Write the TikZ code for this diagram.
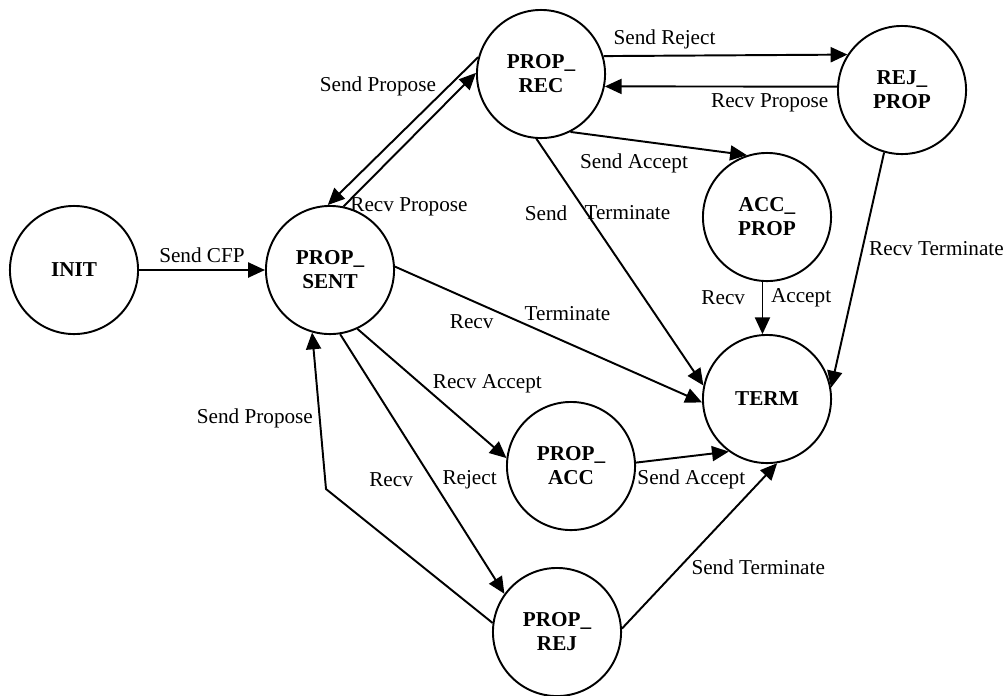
\documentclass[tikz,border=0pt]{standalone}
\usepackage{fontspec}
\setmainfont{Liberation Serif}
\usetikzlibrary{arrows.meta, positioning}

\begin{document}
\begin{tikzpicture}[x=0.566pt, y=-0.566pt, >={Triangle[length=9.5pt,width=8.5pt]}, line width=1.1pt, font=\fontsize{12}{13.6}\selectfont]
		% 节点样式
			\tikzstyle{state} = [circle, draw, line width=1.1pt, minimum size=72.5pt, inner sep=0pt, align=center, font=\fontsize{12}{13.6}\selectfont\bfseries]
			\useasboundingbox (0,0) rectangle (1008,695);
			
			% 状态节点
			\node [state] (init) at (74,270) {INIT};
			\node [state] (sent) at (330,270) {PROP\_\\SENT};
			\node [state] (rec) at (541,74) {PROP\_\\REC};
			\node [state] (rejp) at (902,90) {REJ\_\\PROP};
			\node [state] (accp) at (767,217) {ACC\_\\PROP};
			\node [state] (term) at (767,399) {TERM};
			\node [state] (pacc) at (571,466) {PROP\_\\ACC};
			\node [state] (prej) at (557,632) {PROP\_\\REJ};
			
			\coordinate (bend) at (326,489);
			
			% 状态转移
			\draw[->] (init) -- node[above] {Send CFP} (sent);
			\draw[->] (sent.78) -- node[pos=0, anchor=west] {Recv Propose} (rec.179);
			\draw[->] (rec.165) -- node[pos=0.2, left=3pt] {Send Propose} (sent.92);
			\draw[->] (rec.16) -- node[pos=0.25, above] {Send Reject} (rejp.147);
			\draw[->] (rejp.177) -- node[pos=0.29, below] {Recv Propose} (rec.-11);
			\draw[->] (rec.-63) -- node[pos=0.36, below=4pt] {Send Accept} (accp.108);
			\draw[->] (rec.-94) -- node[pos=0.3, left=7pt] {Send} node[pos=0.3, right=-5pt] {Terminate} (term.168);
			\draw[->] (sent.3) -- node[pos=0.25, below=4pt] {Recv} node[pos=0.4, anchor=base west] {Terminate} (term.183);
			\draw[->] (sent.-65) -- node[pos=0.46, anchor=base west] {Recv Accept} (pacc.173);
			\draw[->] (sent.-81) -- node[pos=0.56, left=7pt] {Recv} node[pos=0.56, right=2pt] {Reject} (prej.144);
			\draw[->] (prej.172) -- (bend) -- node[pos=0.45, left] {Send Propose} (sent.-106);
			\draw[->] (accp.-94) -- node[pos=0.3, left=6pt] {Recv} node[pos=0.3, right=1pt] {Accept} (term.94);
			\draw[->] (rejp.-106) -- node[pos=0.41, right] {Recv Terminate} (term.10);
			\draw[->] (pacc.3.5) -- node[pos=0, anchor=north west, xshift=-3pt] {Send Accept} (term.-126);
			\draw[->] (prej.3.6) -- node[pos=0.37, right=3pt] {Send Terminate} (term.-81);
		\end{tikzpicture}
\end{document}
